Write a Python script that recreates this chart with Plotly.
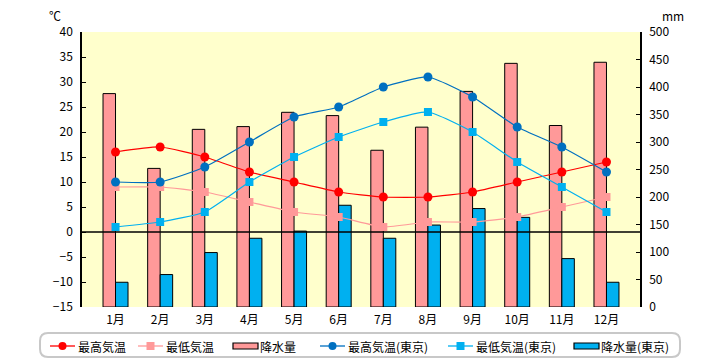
import plotly.graph_objects as go

months = ["1月", "2月", "3月", "4月", "5月", "6月", "7月", "8月", "9月", "10月", "11月", "12月"]
tmax = [16, 17, 15, 12, 10, 8, 7, 7, 8, 10, 12, 14]
tmin = [9, 9, 8, 6, 4, 3, 1, 2, 2, 3, 5, 7]
precip = [388, 252, 323, 328, 354, 348, 285, 327, 392, 443, 330, 445]
tmax_tokyo = [10, 10, 13, 18, 23, 25, 29, 31, 27, 21, 17, 12]
tmin_tokyo = [1, 2, 4, 10, 15, 19, 22, 24, 20, 14, 9, 4]
precip_tokyo = [45, 59, 99, 125, 138, 185, 125, 149, 179, 163, 88, 45]
series_names = ["最高気温", "最低気温", "降水量", "最高気温(東京)", "最低気温(東京)", "降水量(東京)"]
colors = ["#FF0000", "#FF9999", "#FF9999", "#0070C0", "#00B0F0", "#00B0F0"]

FONT = "Noto Sans CJK JP"
L, R, T, B = 82, 80, 32, 53
W, H = 720, 360
PW, PH = W - L - R, H - T - B


def px(x):
    return (x - L) / PW


def py(y):
    return (H - B - y) / PH


fig = go.Figure()

line_kw = dict(width=1.2, shape="spline", smoothing=0.5)
fig.add_trace(go.Scatter(x=months, y=tmax, name=series_names[0], yaxis="y2", mode="lines+markers",
                         line=dict(color=colors[0], **line_kw),
                         marker=dict(symbol="circle", size=9, color=colors[0])))
fig.add_trace(go.Scatter(x=months, y=tmin, name=series_names[1], yaxis="y2", mode="lines+markers",
                         line=dict(color=colors[1], **line_kw),
                         marker=dict(symbol="square", size=8, color=colors[1])))
fig.add_trace(go.Bar(x=months, y=precip, name=series_names[2], yaxis="y",
                     marker=dict(color=colors[2], line=dict(color="#000000", width=1))))
fig.add_trace(go.Scatter(x=months, y=tmax_tokyo, name=series_names[3], yaxis="y2", mode="lines+markers",
                         line=dict(color=colors[3], **line_kw),
                         marker=dict(symbol="circle", size=9, color=colors[3])))
fig.add_trace(go.Scatter(x=months, y=tmin_tokyo, name=series_names[4], yaxis="y2", mode="lines+markers",
                         line=dict(color=colors[4], **line_kw),
                         marker=dict(symbol="square", size=8, color=colors[4])))
fig.add_trace(go.Bar(x=months, y=precip_tokyo, name=series_names[5], yaxis="y",
                     marker=dict(color=colors[5], line=dict(color="#000000", width=1))))

shapes = [
    dict(type="line", xref="paper", x0=0, x1=1, yref="y2", y0=0, y1=0,
         line=dict(color="black", width=1.3), layer="above"),
]
# legend box (rounded)
x0, x1, y0, y1, r = px(40), px(680), py(333), py(357), 8
rx, ry = r / PW, r / PH
shapes.append(dict(
    type="path", xref="paper", yref="paper",
    path=(f"M {x0+rx},{y0} L {x1-rx},{y0} Q {x1},{y0} {x1},{y0-ry} L {x1},{y1+ry} "
          f"Q {x1},{y1} {x1-rx},{y1} L {x0+rx},{y1} Q {x0},{y1} {x0},{y1+ry} "
          f"L {x0},{y0-ry} Q {x0},{y0} {x0+rx},{y0} Z"),
    line=dict(color="#C8C8C8", width=2), fillcolor="rgba(0,0,0,0)", layer="above"))

annotations = [
    dict(text="℃", xref="paper", yref="paper", x=px(55), y=py(15), showarrow=False,
         xanchor="center", yanchor="middle", font=dict(size=12)),
    dict(text="mm", xref="paper", yref="paper", x=px(673), y=py(15), showarrow=False,
         xanchor="center", yanchor="middle", font=dict(size=12)),
]

# manual legend
ly = 346
sym_x = [50, 138, 232, 320, 448, 573]
kinds = ["circle", "square", "bar", "circle", "square", "bar"]
for name, c, sx, kind in zip(series_names, colors, sym_x, kinds):
    if kind == "bar":
        shapes.append(dict(type="rect", xref="paper", yref="paper",
                           x0=px(sx + 1), x1=px(sx + 26), y0=py(ly - 3), y1=py(ly + 3),
                           fillcolor=c, line=dict(color="black", width=1.2), layer="above"))
    else:
        shapes.append(dict(type="line", xref="paper", yref="paper",
                           x0=px(sx), x1=px(sx + 25), y0=py(ly), y1=py(ly),
                           line=dict(color=c, width=1.3), layer="above"))
        cx = sx + 12.5
        shapes.append(dict(type="circle" if kind == "circle" else "rect",
                           xref="paper", yref="paper",
                           x0=px(cx - 4), x1=px(cx + 4), y0=py(ly - 4), y1=py(ly + 4),
                           fillcolor=c, line=dict(color=c, width=0), layer="above"))
    annotations.append(dict(text=name, xref="paper", yref="paper", x=px(sx + 26), y=py(ly),
                            xanchor="left", yanchor="middle", showarrow=False,
                            font=dict(size=12)))

fig.update_layout(
    width=W, height=H,
    margin=dict(l=L, r=R, t=T, b=B, autoexpand=False),
    paper_bgcolor="white", plot_bgcolor="#FFFFCC",
    font=dict(family=FONT, size=12, color="black"),
    barmode="group", bargap=0.44, bargroupgap=0,
    showlegend=False,
    xaxis=dict(showgrid=False, showline=False, ticks="", tickfont=dict(size=12),
               ticklabelstandoff=4),
    yaxis=dict(side="right", range=[0, 500], dtick=50, showgrid=False, zeroline=False,
               showline=True, linecolor="black", linewidth=1.5, ticks="inside", ticklen=4,
               tickcolor="black", ticklabelstandoff=5),
    yaxis2=dict(side="left", overlaying="y", range=[-15, 40], dtick=5, showgrid=False,
                zeroline=False, showline=True, linecolor="black", linewidth=1.5,
                ticks="inside", ticklen=4, tickcolor="black", ticklabelstandoff=5),
    shapes=shapes,
    annotations=annotations,
)

fig.write_html("out.html", config={"displayModeBar": False},
               post_script="document.body.style.margin='0';document.body.style.overflow='hidden';")
